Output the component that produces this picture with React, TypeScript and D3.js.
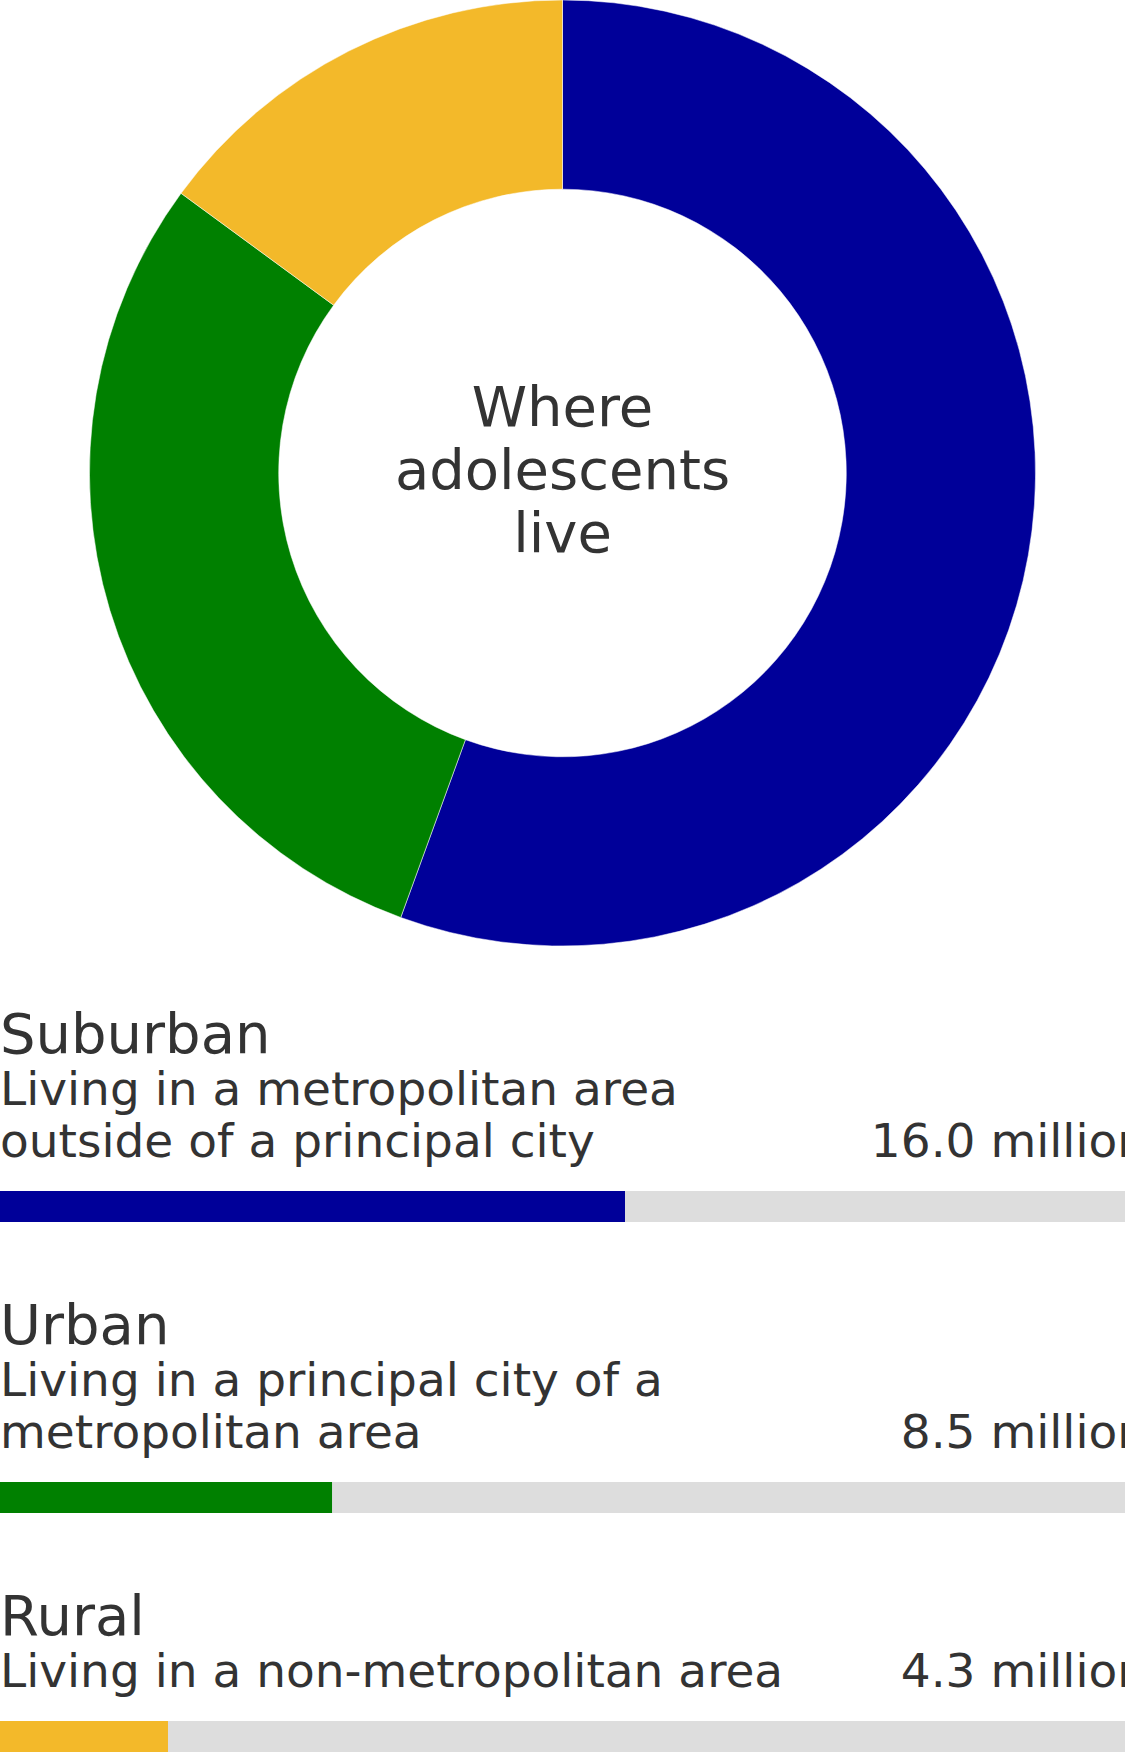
import React from "react";
import * as d3 from "d3";

const categories = ["Suburban", "Urban", "Rural"];
const descriptions = [
  ["Living in a metropolitan area", "outside of a principal city"],
  ["Living in a principal city of a", "metropolitan area"],
  ["Living in a non-metropolitan area"],
];
const valuesMillions = [16.0, 8.5, 4.3];
const valueLabels = ["16.0 million", "8.5 million", "4.3 million"];
const colors = ["#000099", "#008000", "#F3B92A"];
const centerTitle = ["Where", "adolescents", "live"];

const W = 1125;
const H = 1753;
const FONT = "'DejaVu Sans', sans-serif";
const TEXT = "#333333";

export default function App() {
  const cx = 562.5;
  const cy = 473;
  const R = 473;
  const r = R * 0.6;
  const total = d3.sum(valuesMillions);
  const pie = d3
    .pie<number>()
    .sort(null)
    .value((d) => d)(valuesMillions);
  const arc = d3.arc<d3.PieArcDatum<number>>().innerRadius(r).outerRadius(R);
  const x = d3.scaleLinear().domain([0, total]).range([0, W]);

  let y = 1053;
  const sections = categories.map((c, i) => {
    const titleY = y;
    const lines = descriptions[i].map((_, j) => titleY + 52 + j * 52);
    const lastLine = lines[lines.length - 1];
    const barY = lastLine + 34;
    const barH = 31;
    y = barY + barH + 122;
    return { titleY, lines, lastLine, barY, barH };
  });

  return (
    <div style={{ position: "absolute", left: 0, top: 0, width: W, height: H, overflow: "hidden" }}>
      <svg width={W} height={H} style={{ display: "block" }} fontFamily={FONT}>
        <rect width={W} height={H} fill="#ffffff" />
        <g transform={`translate(${cx},${cy})`}>
          {pie.map((p, i) => (
            <path key={i} d={arc(p) || ""} fill={colors[i]} stroke="#ffffff" strokeWidth={0.5} />
          ))}
          {centerTitle.map((t, i) => (
            <text
              key={i}
              x={0}
              y={426 - cy + i * 63}
              textAnchor="middle"
              fontSize={56}
              fill={TEXT}
            >
              {t}
            </text>
          ))}
        </g>
        {sections.map((s, i) => (
          <g key={i}>
            <text x={0} y={s.titleY} fontSize={56} fill={TEXT}>
              {categories[i]}
            </text>
            {descriptions[i].map((line, j) => (
              <text key={j} x={0} y={s.lines[j]} fontSize={47} fill={TEXT}>
                {line}
              </text>
            ))}
            <text x={1147} y={s.lastLine} fontSize={47} fill={TEXT} textAnchor="end">
              {valueLabels[i]}
            </text>
            <rect x={0} y={s.barY} width={W} height={s.barH} fill="#DDDDDD" />
            <rect x={0} y={s.barY} width={x(valuesMillions[i])} height={s.barH} fill={colors[i]} />
          </g>
        ))}
      </svg>
    </div>
  );
}
